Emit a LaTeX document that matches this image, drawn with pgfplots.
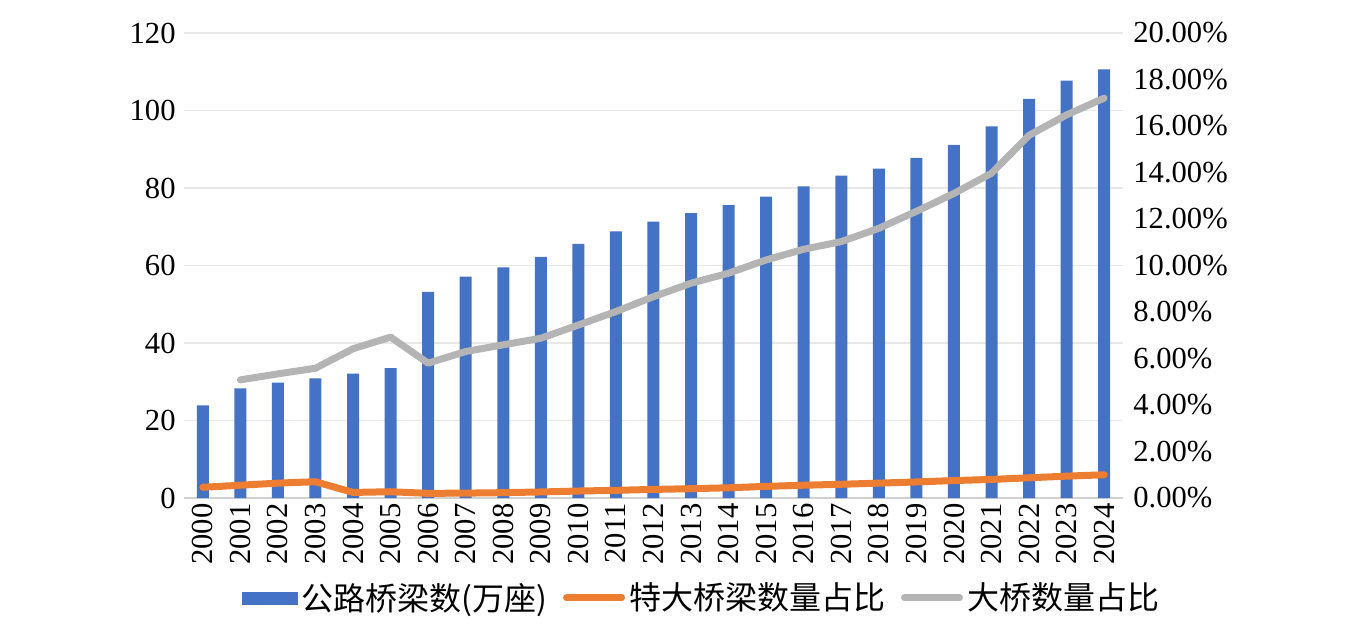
\documentclass[border=0pt]{standalone}
\usepackage{pgfplots}
\pgfplotsset{compat=1.18}
\usepackage{fontspec}
\setmainfont{Liberation Serif}
\newfontfamily\cjk{Noto Sans CJK SC}
\definecolor{barblue}{HTML}{4472C4}
\definecolor{lorange}{HTML}{ED7D31}
\definecolor{lgray}{HTML}{B4B4B4}
\begin{document}
\begin{tikzpicture}
\path[use as bounding box] (-92pt,-62.5pt) rectangle (589pt,249pt);
\begin{axis}[
  at={(0,0)}, anchor=south west,
  scale only axis, width=469.5pt, height=232.5pt,
  xmin=-0.5, xmax=24.5, ymin=0, ymax=120,
  ytick={0,20,...,120},
  xtick={0,...,24},
  xticklabels={2000,2001,2002,2003,2004,2005,2006,2007,2008,2009,2010,2011,2012,2013,2014,2015,2016,2017,2018,2019,2020,2021,2022,2023,2024},
  /pgf/number format/assume math mode=true,
  yticklabel={\pgfmathprintnumber{\tick}},
  axis x line*=bottom, axis y line*=left,
  y axis line style={draw=none},
  x axis line style={draw=black!18, line width=0.8pt, -},
  major tick length=0pt, tick style={draw=none},
  ymajorgrids, grid style={draw=black!9, line width=0.8pt},
  tick label style={font=\fontsize{15.3}{18}\selectfont},
  yticklabel style={inner sep=4pt},
  xticklabel style={rotate=90, anchor=east, inner sep=2.5pt},
  ybar, bar width=6pt,
]
\addplot[fill=barblue, draw=none] coordinates {
(0,23.9) (1,28.3) (2,29.8) (3,30.9) (4,32.1) (5,33.5) (6,53.2) (7,57.1) (8,59.5) (9,62.2)
(10,65.6) (11,68.8) (12,71.3) (13,73.5) (14,75.6) (15,77.8) (16,80.4) (17,83.2) (18,85.0) (19,87.8)
(20,91.1) (21,95.9) (22,103.0) (23,107.7) (24,110.6)};
\end{axis}
\begin{axis}[
  at={(0,0)}, anchor=south west,
  scale only axis, width=469.5pt, height=232.5pt,
  xmin=-0.5, xmax=24.5, ymin=0, ymax=20,
  ytick={0,2,...,20},
  /pgf/number format/assume math mode=true,
  yticklabel={\pgfmathprintnumber[fixed,fixed zerofill,precision=2]{\tick}\%},
  axis y line*=right, axis x line=none,
  y axis line style={draw=none},
  major tick length=0pt, tick style={draw=none},
  tick label style={font=\fontsize{15.3}{18}\selectfont},
  yticklabel style={inner sep=5pt},
  legend columns=3,
  legend style={draw=none, at={(0.552,-0.215)}, anchor=center,
    font=\cjk\fontsize{16}{19}\selectfont, inner sep=0pt,
    /tikz/every even column/.append style={column sep=6pt}},
  legend cell align=left,
]
\addlegendimage{legend image code/.code={\fill[barblue] (0pt,-3pt) rectangle (27.5pt,3pt);}}
\addlegendentry{公路桥梁数(万座)}
\addplot[lorange, line width=3.5pt, line join=round, line cap=round,
  legend image code/.code={\draw[line width=3.5pt, line cap=round] (0pt,0pt) -- (27.5pt,0pt);}] coordinates {
(0,0.46) (1,0.55) (2,0.64) (3,0.70) (4,0.24) (5,0.27) (6,0.20) (7,0.21) (8,0.23) (9,0.26)
(10,0.30) (11,0.33) (12,0.37) (13,0.40) (14,0.44) (15,0.50) (16,0.55) (17,0.59) (18,0.64) (19,0.69)
(20,0.75) (21,0.80) (22,0.87) (23,0.94) (24,1.00)};
\addlegendentry{特大桥梁数量占比}
\addplot[lgray, line width=3.5pt, line join=round, line cap=round,
  legend image code/.code={\draw[line width=3.5pt, line cap=round] (0pt,0pt) -- (27.5pt,0pt);}] coordinates {
(1,5.08) (2,5.34) (3,5.58) (4,6.42) (5,6.92) (6,5.80) (7,6.30) (8,6.59) (9,6.87)
(10,7.44) (11,8.02) (12,8.66) (13,9.24) (14,9.67) (15,10.24) (16,10.70) (17,11.03) (18,11.60) (19,12.33)
(20,13.10) (21,13.97) (22,15.60) (23,16.48) (24,17.20)};
\addlegendentry{大桥数量占比}
\end{axis}
\end{tikzpicture}
\end{document}
